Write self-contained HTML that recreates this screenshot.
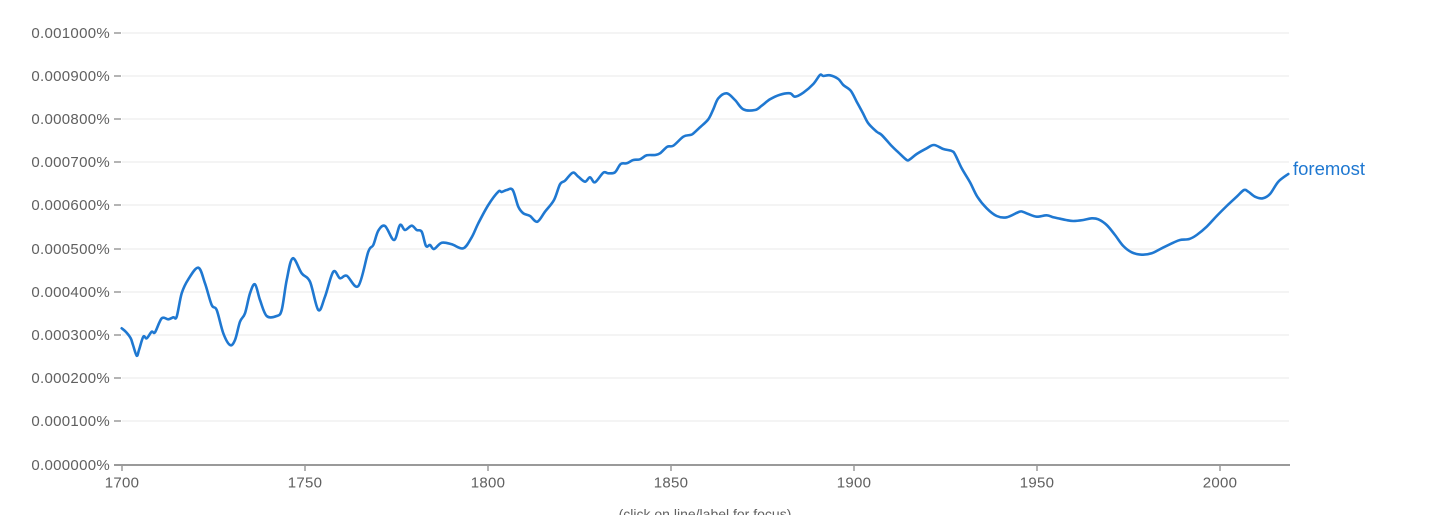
<!DOCTYPE html>
<html>
<head>
<meta charset="utf-8">
<style>
  html, body { margin:0; padding:0; background:#fff; }
  body { width:1435px; height:515px; overflow:hidden; }
  svg { display:block; }
  text { font-family: "Liberation Sans", sans-serif; }
</style>
</head>
<body>
<svg width="1435" height="515" viewBox="0 0 1435 515" xmlns="http://www.w3.org/2000/svg">
  <g stroke="#f1f1f1" stroke-width="1.5">
    <line x1="122" y1="33" x2="1289" y2="33"/>
    <line x1="122" y1="76" x2="1289" y2="76"/>
    <line x1="122" y1="119" x2="1289" y2="119"/>
    <line x1="122" y1="162" x2="1289" y2="162"/>
    <line x1="122" y1="205" x2="1289" y2="205"/>
    <line x1="122" y1="249" x2="1289" y2="249"/>
    <line x1="122" y1="292" x2="1289" y2="292"/>
    <line x1="122" y1="335" x2="1289" y2="335"/>
    <line x1="122" y1="378" x2="1289" y2="378"/>
    <line x1="122" y1="421" x2="1289" y2="421"/>
  </g>
  <g stroke="#9a9a9a" stroke-width="1.5">
    <line x1="114" y1="33" x2="121" y2="33"/>
    <line x1="114" y1="76" x2="121" y2="76"/>
    <line x1="114" y1="119" x2="121" y2="119"/>
    <line x1="114" y1="162" x2="121" y2="162"/>
    <line x1="114" y1="205" x2="121" y2="205"/>
    <line x1="114" y1="249" x2="121" y2="249"/>
    <line x1="114" y1="292" x2="121" y2="292"/>
    <line x1="114" y1="335" x2="121" y2="335"/>
    <line x1="114" y1="378" x2="121" y2="378"/>
    <line x1="114" y1="421" x2="121" y2="421"/>
  </g>
  <line x1="114" y1="465" x2="1290" y2="465" stroke="#9a9a9a" stroke-width="2"/>
  <g stroke="#9a9a9a" stroke-width="1.5">
    <line x1="122" y1="465" x2="122" y2="471"/>
    <line x1="305" y1="465" x2="305" y2="471"/>
    <line x1="488" y1="465" x2="488" y2="471"/>
    <line x1="671" y1="465" x2="671" y2="471"/>
    <line x1="854" y1="465" x2="854" y2="471"/>
    <line x1="1037" y1="465" x2="1037" y2="471"/>
    <line x1="1220" y1="465" x2="1220" y2="471"/>
  </g>
  <g fill="#606060" font-size="15" letter-spacing="0.3" text-anchor="end">
    <text x="110" y="38">0.001000%</text>
    <text x="110" y="81">0.000900%</text>
    <text x="110" y="124">0.000800%</text>
    <text x="110" y="167">0.000700%</text>
    <text x="110" y="210">0.000600%</text>
    <text x="110" y="254">0.000500%</text>
    <text x="110" y="297">0.000400%</text>
    <text x="110" y="340">0.000300%</text>
    <text x="110" y="383">0.000200%</text>
    <text x="110" y="426">0.000100%</text>
    <text x="110" y="470">0.000000%</text>
  </g>
  <g fill="#606060" font-size="15" letter-spacing="0.3" text-anchor="middle">
    <text x="122" y="487.5">1700</text>
    <text x="305" y="487.5">1750</text>
    <text x="488" y="487.5">1800</text>
    <text x="671" y="487.5">1850</text>
    <text x="854" y="487.5">1900</text>
    <text x="1037" y="487.5">1950</text>
    <text x="1220" y="487.5">2000</text>
  </g>
  <text x="705" y="519" fill="#606060" font-size="14" text-anchor="middle">(click on line/label for focus)</text>
  <polyline id="pl" fill="none" stroke="#1f78d1" stroke-width="2.6" stroke-linejoin="round" stroke-linecap="round" points="
121.7,328.3 126,332 130.7,338.3 133,345 136.7,355.7 139,350 143.3,336.7 146.7,338.3 151.7,331.7 155,332.3
161.7,318.3 168.3,319.3 173.3,317.3 176.7,316.7 181.7,293.3 188.3,279.3 198.3,267.7 205,283.3 211.7,305 216.7,310
223.3,333.3 230,345 235,340 240,321.7 245,313.3 250,293.3 255,284.3 260,300 266.7,316 276.7,316
281.7,310 286.7,280 292.7,258.3 301.7,273.3 310,281.7 318.3,310 325,296.7 333.3,271.7 340,278.3 346.7,275.7
358.3,286 368.3,251.7 373.3,245 378.3,230.7 385,226 394,240 400,225 405,230 411.7,225.7 416.7,230
421.7,231.7 426,246 430,245 434,249 441.7,242.7 451.7,244.3 463.3,248.3 471.7,237.3 478.3,223.3 488.3,205
498.3,191.7 501.7,192 506.7,190 512.7,190 518.3,206.7 523.3,213.3 530,216 537.3,221.7 545,211.7 554,200
560,184.3 565,180.7 572.7,172.7 578.3,176.7 585,181.7 590,177.3 595,182.3 603.3,172.7 608.3,173.3 615,172.3
620.7,164 626.7,163.3 633.3,160 640,159.3 646.7,155.3 655,155 660,153.3 667.3,146.7 673.3,145.7 683.3,136.7
690,135 692.7,134 700,127.3 708.3,119.3 713.3,109.3 718.3,98.3 726.7,93.3 735,100 743.3,109.3 755,110
761.7,105.7 770,99.3 780,94.7 790,93.3 795,96.7 803.3,92.7 813.3,84 820,75 823.3,76 830,75.3
838.3,79 843.3,85 850.7,90.7 856.7,101.7 862.7,112.7 868.3,123.3 876.7,131.7 881.7,135 891.7,146 898.3,152.3
906.7,160 910,159.3 916.7,154 926.7,148.3 934,145 943.3,149 951.7,151 955,154.3 961.7,168.3 970,182.3
977.3,196.7 986.7,208.3 996.7,216 1006.7,217.3 1019.3,211.7 1023.3,212 1028.3,214 1036.7,216.7 1046.7,215.3 1053.3,217.3
1060,218.7 1066,220 1073.3,221 1083.3,220 1091.7,218.3 1098.3,219.3 1106.7,225 1115,235 1123.3,246 1131.7,252.3
1141.7,254.7 1151.7,253.3 1161.7,248.3 1173.3,242.7 1180,240 1189.3,239 1196.7,235 1206.7,226.7 1216.7,216 1226.7,206
1236.7,196.7 1244,190 1248.3,191.7 1255,196.7 1262.7,198.3 1270,194 1278.3,181.7 1288.3,174"/>
  <path id="sm" fill="none" stroke="#1f78d1" stroke-width="2.6" stroke-linejoin="round" stroke-linecap="round" d=""/>
  <text x="1293" y="175" fill="#1f78d1" font-size="18.5">foremost</text>
</svg>
<script>
(function(){
  var pl = document.getElementById('pl');
  var raw = pl.getAttribute('points').trim().split(/\s+/).map(function(s){var a=s.split(',');return [parseFloat(a[0]),parseFloat(a[1])];});
  var n = raw.length, d = 'M' + raw[0][0] + ',' + raw[0][1];
  var t = 0.5;
  for (var i = 0; i < n - 1; i++) {
    var p0 = raw[i > 0 ? i - 1 : 0], p1 = raw[i], p2 = raw[i + 1], p3 = raw[i + 2 < n ? i + 2 : n - 1];
    var c1x = p1[0] + (p2[0] - p0[0]) / 6 * t * 2, c1y = p1[1] + (p2[1] - p0[1]) / 6 * t * 2;
    var c2x = p2[0] - (p3[0] - p1[0]) / 6 * t * 2, c2y = p2[1] - (p3[1] - p1[1]) / 6 * t * 2;
    d += ' C' + c1x.toFixed(2) + ',' + c1y.toFixed(2) + ' ' + c2x.toFixed(2) + ',' + c2y.toFixed(2) + ' ' + p2[0] + ',' + p2[1];
  }
  document.getElementById('sm').setAttribute('d', d);
  pl.style.display = 'none';
})();
</script>
</body>
</html>
